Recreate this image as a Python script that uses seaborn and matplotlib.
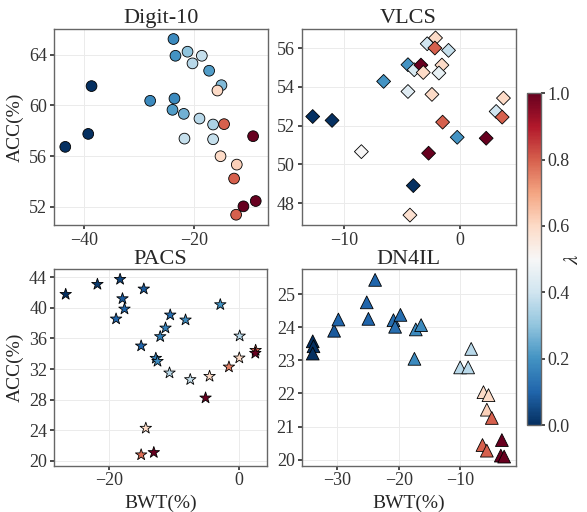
import numpy as np
import pandas as pd
import matplotlib
matplotlib.use("Agg")
import matplotlib.pyplot as plt
import seaborn as sns

# Digit-10
digit_bwt = [-43.45, -39.27, -38.67, -28.0, -23.76, -23.4, -23.58, -23.94, -21.88, -21.2,
             -20.3, -18.6, -17.27, -15.03, -15.76, -19.03, -21.76, -16.55, -16.55, -14.55,
             -15.2, -12.24, -12.73, -12.36, -11.03, -9.27, -8.79]
digit_acc = [56.74, 57.76, 61.53, 60.37, 65.24, 63.92, 60.55, 59.66, 59.34, 64.24,
             63.32, 63.92, 62.74, 61.6, 61.18, 58.97, 57.39, 58.5, 57.34, 58.53,
             56.0, 55.34, 54.24, 51.39, 52.05, 57.58, 52.47]
digit_lam = [0.0, 0.0, 0.0, 0.18, 0.18, 0.2, 0.18, 0.22, 0.26, 0.3,
             0.36, 0.38, 0.22, 0.28, 0.6, 0.36, 0.38, 0.34, 0.38, 0.8,
             0.6, 0.62, 0.8, 0.8, 1.0, 1.0, 1.0]

# VLCS
vlcs_bwt = [-12.7, -11.03, -8.5, -6.58, -4.48, -4.48, -3.94, -3.36, -3.16, -2.82,
            -2.1, -2.16, -0.98, -1.55, -1.81, -2.41, -1.49, -2.7, -4.02, -4.31,
            -0.23, 2.27, 3.13, 3.65, 3.76]
vlcs_acc = [52.47, 52.27, 50.66, 54.28, 53.76, 55.14, 54.88, 55.12, 54.74, 56.22,
            56.52, 56.0, 55.88, 55.12, 54.71, 53.61, 52.18, 50.58, 48.91, 47.39,
            51.4, 51.35, 52.73, 52.44, 53.42]
vlcs_lam = [0.0, 0.0, 0.5, 0.2, 0.44, 0.2, 0.42, 1.0, 0.6, 0.4,
            0.6, 0.8, 0.38, 0.6, 0.46, 0.6, 0.8, 1.0, 0.0, 0.58,
            0.2, 1.0, 0.4, 0.8, 0.6]

# PACS
pacs_bwt = [-26.77, -21.86, -18.35, -17.98, -17.67, -18.97, -14.68, -15.09, -12.82, -12.56,
            -12.14, -11.32, -10.59, -8.22, -2.84, -10.7, -7.49, -4.5, -5.12, -14.37,
            -15.09, -13.13, 0.16, 0.1, -1.5, 2.63, 2.58]
pacs_acc = [41.78, 43.09, 43.74, 41.21, 39.86, 38.56, 42.48, 35.03, 33.42, 33.02,
            36.25, 37.38, 39.08, 38.43, 40.43, 31.5, 30.63, 31.06, 28.23, 24.27,
            20.79, 21.09, 36.33, 33.46, 32.28, 34.46, 34.07]
pacs_lam = [0.0, 0.02, 0.04, 0.08, 0.1, 0.1, 0.08, 0.1, 0.16, 0.18,
            0.16, 0.16, 0.12, 0.18, 0.2, 0.36, 0.38, 0.6, 1.0, 0.6,
            0.78, 1.0, 0.36, 0.6, 0.75, 0.8, 1.0]

# DN4IL
dn_bwt = [-34.02, -33.9, -34.02, -30.54, -29.84, -25.22, -24.95, -23.86, -20.87, -20.6,
          -19.73, -17.23, -16.36, -17.45, -8.2, -10.0, -8.7, -6.2, -5.38, -5.65,
          -4.84, -6.36, -5.65, -3.2, -3.37, -2.83]
dn_acc = [23.58, 23.43, 23.21, 23.9, 24.24, 24.76, 24.26, 25.44, 24.22, 24.02,
          24.38, 23.94, 24.07, 23.05, 23.35, 22.79, 22.79, 22.04, 21.95, 21.51,
          21.26, 20.44, 20.27, 20.59, 20.12, 20.09]
dn_lam = [0.0, 0.0, 0.0, 0.08, 0.1, 0.1, 0.1, 0.1, 0.12, 0.12,
          0.12, 0.18, 0.18, 0.18, 0.36, 0.36, 0.36, 0.6, 0.6, 0.62,
          0.8, 0.8, 0.8, 1.0, 1.0, 1.0]

sns.set_theme(style="whitegrid")
plt.rcParams.update({
    "font.family": ["Liberation Serif", "DejaVu Serif"],
    "axes.edgecolor": "#666666",
    "axes.linewidth": 1.0,
    "grid.color": "#ebebeb",
    "grid.linewidth": 0.7,
    "xtick.bottom": True,
    "ytick.left": True,
    "xtick.color": "#333333",
    "ytick.color": "#333333",
    "xtick.major.size": 3,
    "ytick.major.size": 3,
    "xtick.labelsize": 13,
    "ytick.labelsize": 13,
    "axes.labelsize": 14,
    "axes.titlesize": 16,
    "mathtext.fontset": "stix",
})

fig = plt.figure(figsize=(5.87, 5.12), dpi=100)
W, H = 587, 512

def box(l, t, r, b):
    return [l / W, 1 - b / H, (r - l) / W, (b - t) / H]

panels = [
    ("Digit-10", digit_bwt, digit_acc, digit_lam, "o", 60, box(54, 29, 267.5, 225),
     (-45.5, -6.65), (50.58, 66.03), [-40, -20], [52, 56, 60, 64]),
    ("VLCS", vlcs_bwt, vlcs_acc, vlcs_lam, "D", 50, box(301.7, 29, 515.5, 225),
     (-13.65, 4.8), (46.88, 56.98), [-10, 0], [48, 50, 52, 54, 56]),
    ("PACS", pacs_bwt, pacs_acc, pacs_lam, "*", 75, box(54, 269.3, 267, 465.5),
     (-28.58, 4.39), (19.39, 45.05), [-20, 0], [20, 24, 28, 32, 36, 40, 44]),
    ("DN4IL", dn_bwt, dn_acc, dn_lam, "^", 85, box(301.7, 269.3, 515.5, 465.5),
     (-35.82, -0.98), (19.82, 25.76), [-30, -20, -10], [20, 21, 22, 23, 24, 25]),
]

cmap = "RdBu_r"
for i, (title, bwt, acc, lam, mk, sz, pos, xl, yl, xt, yt) in enumerate(panels):
    ax = fig.add_axes(pos)
    df = pd.DataFrame({"BWT": bwt, "ACC": acc, "lam": lam})
    sns.scatterplot(data=df, x="BWT", y="ACC", hue="lam", palette=cmap, hue_norm=(0, 1),
                    marker=mk, s=sz, edgecolor="black", linewidth=0.6, legend=False, ax=ax)
    ax.set_title(title, pad=4)
    ax.set_xlim(*xl)
    ax.set_ylim(*yl)
    ax.set_xticks(xt)
    ax.set_yticks(yt)
    ax.set_xlabel("BWT(%)" if i >= 2 else "")
    ax.set_ylabel("ACC(%)" if i % 2 == 0 else "")
    ax.tick_params(pad=2)

cax = fig.add_axes(box(526.7, 93.3, 540.7, 425))
sm = plt.cm.ScalarMappable(cmap=cmap, norm=plt.Normalize(0, 1))
cb = fig.colorbar(sm, cax=cax)
cb.set_ticks([0.0, 0.2, 0.4, 0.6, 0.8, 1.0])
cb.set_label(r"$\lambda$", fontsize=15, labelpad=-4)
cb.outline.set_edgecolor("#666666")
cax.tick_params(labelsize=13, length=3, pad=2)

fig.savefig("out.png", dpi=100)
